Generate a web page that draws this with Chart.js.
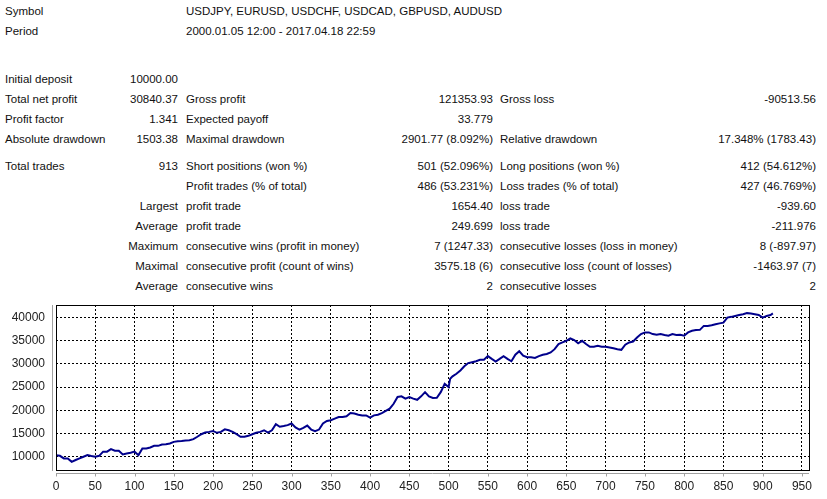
<!DOCTYPE html>
<html>
<head>
<meta charset="utf-8">
<script src="https://cdn.jsdelivr.net/npm/chart.js@4.4.0/dist/chart.umd.min.js"></script>
<style>
  body { margin: 0; background: #fff; width: 827px; height: 499px; overflow: hidden; position: relative;
         font-family: "Liberation Sans", Arial, sans-serif; font-size: 11.5px; color: #111; }
  .t { position: absolute; white-space: nowrap; line-height: 14px; }
  .r { text-align: right; }
  #wrap { position: absolute; left: 0; top: 295px; width: 827px; height: 204px; }
</style>
</head>
<body>
<div id="report"></div>
<div id="wrap"><canvas id="myChart"></canvas></div>
<script>
// Report rows: [y, col A, col B, col C, col D, col E, col F]
const reportRows = [
    [11, 'Symbol', '', 'USDJPY, EURUSD, USDCHF, USDCAD, GBPUSD, AUDUSD', '', '', ''],
    [31, 'Period', '', '2000.01.05 12:00 - 2017.04.18 22:59', '', '', ''],
    [79, 'Initial deposit', '10000.00', '', '', '', ''],
    [99, 'Total net profit', '30840.37', 'Gross profit', '121353.93', 'Gross loss', '-90513.56'],
    [119, 'Profit factor', '1.341', 'Expected payoff', '33.779', '', ''],
    [139, 'Absolute drawdown', '1503.38', 'Maximal drawdown', '2901.77 (8.092%)', 'Relative drawdown', '17.348% (1783.43)'],
    [166, 'Total trades', '913', 'Short positions (won %)', '501 (52.096%)', 'Long positions (won %)', '412 (54.612%)'],
    [186, '', '', 'Profit trades (% of total)', '486 (53.231%)', 'Loss trades (% of total)', '427 (46.769%)'],
    [206, '', 'Largest', 'profit trade', '1654.40', 'loss trade', '-939.60'],
    [226, '', 'Average', 'profit trade', '249.699', 'loss trade', '-211.976'],
    [246, '', 'Maximum', 'consecutive wins (profit in money)', '7 (1247.33)', 'consecutive losses (loss in money)', '8 (-897.97)'],
    [266, '', 'Maximal', 'consecutive profit (count of wins)', '3575.18 (6)', 'consecutive loss (count of losses)', '-1463.97 (7)'],
    [286, '', 'Average', 'consecutive wins', '2', 'consecutive losses', '2']
];

// Balance curve: trade number and balance
const trades = [0, 5, 10, 15, 20, 25, 30, 35, 40, 45, 50, 55, 60, 65, 70, 75, 80, 85, 90, 95,
    100, 105, 110, 115, 120, 125, 130, 135, 140, 145, 150, 155, 160, 165, 170, 175, 180, 185, 190, 195,
    200, 205, 210, 215, 220, 225, 230, 235, 240, 245, 250, 255, 260, 265, 270, 275, 280, 285, 290, 295,
    300, 305, 310, 315, 320, 325, 330, 335, 340, 345, 350, 355, 360, 365, 370, 375, 380, 385, 390, 395,
    400, 405, 410, 415, 420, 425, 430, 435, 440, 445, 450, 455, 460, 465, 470, 475, 480, 485, 490, 495,
    500, 502, 505, 510, 515, 520, 525, 530, 535, 540, 545, 550, 555, 560, 565, 570, 575, 580, 585, 590, 595,
    600, 605, 610, 615, 620, 625, 630, 635, 640, 645, 650, 655, 660, 665, 670, 675, 680, 685, 690, 695,
    700, 705, 710, 715, 720, 725, 730, 735, 740, 745, 750, 755, 760, 765, 770, 775, 780, 785, 790, 795,
    800, 805, 810, 815, 820, 825, 830, 835, 840, 845, 850, 855, 860, 865, 870, 875, 880, 885, 890, 895,
    900, 905, 910, 913];
const balance = [10300, 10200, 9650, 9650, 8900, 9300, 9650, 10000, 10350, 10150, 10000, 10200, 11100, 11100, 11650, 11300, 11300, 10500, 10700, 10850,
    11100, 10350, 11800, 11800, 12000, 12350, 12350, 12650, 12700, 12850, 13200, 13350, 13400, 13500, 13550, 13800, 14300, 14850, 15200, 15350,
    15550, 15150, 15350, 15900, 15700, 15350, 14850, 14300, 14300, 14500, 14850, 15150, 15350, 15700, 15200, 15700, 17000, 16450, 16600, 16800,
    17150, 16300, 15850, 16200, 16700, 15850, 15500, 15850, 17150, 17700, 17850, 18200, 18550, 18550, 18700, 19400, 19300, 19050, 18900, 18900,
    18400, 18900, 19050, 19400, 19850, 20350, 21400, 22850, 23000, 22500, 22850, 22500, 22250, 23000, 23900, 23000, 22650, 22700, 23900, 25700,
    25000, 26800, 27300, 27850, 28550, 29450, 30150, 30350, 30550, 30850, 30850, 31650, 31050, 30500, 31050, 31650, 31050, 30550, 31950, 32700, 31750,
    31400, 31400, 31250, 31650, 31950, 32100, 32450, 33150, 34250, 34600, 34950, 35450, 35100, 34400, 34950, 34250, 33650, 33650, 33850, 33650,
    33650, 33500, 33350, 33150, 33000, 34100, 34600, 34800, 35650, 36400, 36750, 36750, 36400, 36250, 36400, 36200, 36050, 36400, 36200, 36250,
    36050, 36750, 37100, 37250, 37300, 38150, 38150, 38300, 38500, 38700, 38850, 39950, 40100, 40300, 40500, 40650, 40900, 40800, 40650, 40500,
    39950, 40300, 40500, 40840];

const yTicks = [10000, 15000, 20000, 25000, 30000, 35000, 40000];
const xTicks = [0, 50, 100, 150, 200, 250, 300, 350, 400, 450, 500, 550, 600, 650, 700, 750, 800, 850, 900, 950];

// Build the report text
const report = document.getElementById('report');
function addText(text, x, y, alignRight) {
    if (!text) return;
    const d = document.createElement('div');
    d.className = 't' + (alignRight ? ' r' : '');
    d.textContent = text;
    d.style.top = (y - 7) + 'px';
    if (alignRight) {
        d.style.right = (827 - x) + 'px';
    } else {
        d.style.left = x + 'px';
    }
    report.appendChild(d);
}
reportRows.forEach(row => {
    const y = row[0];
    addText(row[1], 5, y, false);
    addText(row[2], 178, y, true);
    addText(row[3], 186, y, false);
    addText(row[4], 493, y, true);
    addText(row[5], 500, y, false);
    addText(row[6], 816, y, true);
});

// Frame, gray axis lines and x tick marks like the tester window
const framePlugin = {
    id: 'frame',
    afterDraw(chart) {
        const { ctx, chartArea: a, scales } = chart;
        ctx.save();
        ctx.strokeStyle = '#000';
        ctx.lineWidth = 1;
        ctx.strokeRect(Math.round(a.left) + 0.5, Math.round(a.top) + 0.5,
            Math.round(a.right - a.left), Math.round(a.bottom - a.top));
        ctx.strokeStyle = '#a0a0a0';
        ctx.beginPath();
        ctx.moveTo(Math.round(a.left) - 3.5, a.top);
        ctx.lineTo(Math.round(a.left) - 3.5, a.bottom + 1);
        const yb = Math.round(a.bottom) + 3.5;
        ctx.moveTo(a.left, yb);
        ctx.lineTo(a.right, yb);
        xTicks.forEach(v => {
            const px = Math.round(scales.x.getPixelForValue(v)) + 0.5;
            ctx.moveTo(px, yb);
            ctx.lineTo(px, yb + 3);
        });
        ctx.stroke();
        ctx.restore();
    }
};

const ctx = document.getElementById('myChart').getContext('2d');
const myChart = new Chart(ctx, {
    type: 'line',
    data: {
        datasets: [{
            data: trades.map((t, i) => ({ x: t, y: balance[i] })),
            borderColor: '#00008c',
            borderWidth: 2,
            pointRadius: 0,
            tension: 0
        }]
    },
    plugins: [framePlugin],
    options: {
        responsive: true,
        maintainAspectRatio: false,
        animation: false,
        events: [],
        layout: { padding: { top: 10, right: 18, left: 0, bottom: 0 } },
        plugins: {
            legend: { display: false },
            tooltip: { enabled: false }
        },
        scales: {
            x: {
                type: 'linear',
                min: 0,
                max: 959,
                afterBuildTicks: scale => { scale.ticks = xTicks.map(v => ({ value: v })); },
                afterFit: scale => {
                    scale.height = 29;
                    scale.paddingLeft = 0;
                    scale.paddingRight = 0;
                },
                grid: { color: '#000', drawTicks: false },
                border: { display: false, dash: [2, 2] },
                ticks: {
                    padding: 9,
                    maxRotation: 0,
                    autoSkip: false,
                    color: '#222',
                    font: { family: 'Liberation Sans', size: 12 }
                }
            },
            y: {
                min: 7150,
                max: 42650,
                afterBuildTicks: scale => { scale.ticks = yTicks.map(v => ({ value: v })); },
                afterFit: scale => {
                    scale.width = 56;
                    scale.paddingTop = 0;
                    scale.paddingBottom = 0;
                },
                grid: { color: '#000', drawTicks: false },
                border: { display: false, dash: [2, 2] },
                ticks: {
                    padding: 11,
                    color: '#222',
                    font: { family: 'Liberation Sans', size: 12 },
                    callback: v => String(v)
                }
            }
        }
    }
});
</script>
</body>
</html>
